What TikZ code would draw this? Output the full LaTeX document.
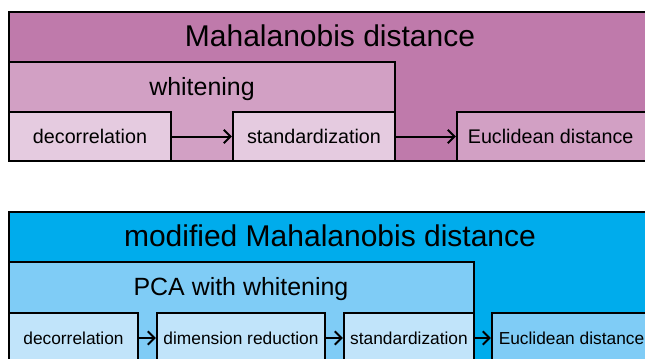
\documentclass[tikz,border=0pt]{standalone}
\usepackage{fontspec}
\setmainfont{Liberation Sans}
\usetikzlibrary{arrows.meta,fit}
\definecolor{mahaldark}{RGB}{191,122,171}
\definecolor{mahalmid}{RGB}{210,160,196}
\definecolor{mahallight}{RGB}{229,203,224}
\definecolor{modidark}{RGB}{0,172,236}
\definecolor{modimid}{RGB}{127,204,246}
\definecolor{modilight}{RGB}{193,228,250}
\begin{document}
\begin{tikzpicture}[x=0.75pt,y=-0.75pt,
    box/.style={draw,line width=1.6pt,inner sep=0pt},
    rowbox/.style={box,minimum height=#1},
    toptitle/.style={inner sep=0pt,text depth=0pt,font=\fontsize{22.5}{26}\selectfont},
    subtitle/.style={inner sep=0pt,text depth=0pt,font=\fontsize{18.7}{22}\selectfont},
    arr/.style={-{Straight Barb[length=5pt,width=10pt,line width=1.5pt]},line width=1.5pt}]
    \useasboundingbox (0,0) rectangle (645,358);
    \clip (0,0) rectangle (645,358);
    % Mahalanobis distance
    \node[box,fill=mahaldark,fit={(9,12) (651,161)}] (mahal) {};
    \node[toptitle] (mahaltitle) at (330,36) {Mahalanobis distance};
    \node[box,fill=mahalmid,fit={(9,62) (395,161)}] (white) {};
    \node[subtitle] (whitetitle) at (202,86) {whitening};
    \begin{scope}[every node/.append style={font=\fontsize{14.8}{17}\selectfont,text depth=0pt}]
        \node[rowbox=36.75pt,fill=mahallight,minimum width=121.5pt] (decor) at (90,136.5) {decorrelation};
        \node[rowbox=36.75pt,fill=mahallight,minimum width=121.5pt] (stand) at (314,136.5) {standardization};
        \node[rowbox=36.75pt,fill=mahalmid,minimum width=145.5pt] (eucl) at (554,136.5) {\hspace*{-5pt}Euclidean distance};
    \end{scope}
    \draw[arr] (decor) -- (stand);
    \draw[arr] (stand) -- (eucl);
    % modified Mahalanobis distance
    \node[box,fill=modidark,fit={(9,212) (651,363)}] (modmahal) {};
    \node[toptitle] (modtitle) at (330,236) {modified Mahalanobis distance};
    \node[box,fill=modimid,fit={(9,262) (474,363)}] (pca) {};
    \node[subtitle] (pcatitle) at (241,286) {PCA with whitening};
    \begin{scope}[every node/.append style={font=\fontsize{13}{15}\selectfont,text depth=0pt}]
        \node[rowbox=37.5pt,fill=modilight,minimum width=96.75pt] (mdecor) at (73.5,338) {decorrelation};
        \node[rowbox=37.5pt,fill=modilight,minimum width=126pt] (dimred) at (241,338) {dimension reduction};
        \node[rowbox=37.5pt,fill=modilight,minimum width=97.5pt] (mstand) at (409,338) {standardization};
        \node[rowbox=37.5pt,fill=modimid,minimum width=119.25pt] (meucl) at (571.5,338) {Euclidean distance};
    \end{scope}
    \draw[arr] (mdecor) -- (dimred);
    \draw[arr] (dimred) -- (mstand);
    \draw[arr] (mstand) -- (meucl);
\end{tikzpicture}
\end{document}
